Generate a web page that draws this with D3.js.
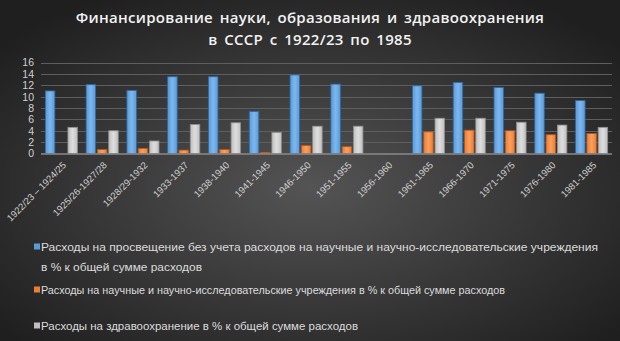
<!DOCTYPE html>
<html>
<head>
<meta charset="utf-8">
<script src="https://cdn.jsdelivr.net/npm/d3@7"></script>
<style>
  html, body { margin: 0; padding: 0; background: #2a2a2a; }
  svg { display: block; }
</style>
</head>
<body>
<svg id="chart" width="620" height="341"></svg>
<script>
// Periods on the category axis
const periods = [
  "1922/23 – 1924/25", "1925/26-1927/28", "1928/29-1932", "1933-1937",
  "1938-1940", "1941-1945", "1946-1950", "1951-1955", "1956-1960",
  "1961-1965", "1966-1970", "1971-1975", "1976-1980", "1981-1985"
];

// Spending shares, % of total expenditure (null = no data)
const education = [11.0, 12.1, 11.1, 13.5, 13.5, 7.4, 13.8, 12.2, null, 11.9, 12.5, 11.6, 10.6, 9.3];
const science   = [null, 0.7, 0.9, 0.6, 0.7, 0.2, 1.4, 1.2, null, 3.8, 4.1, 4.0, 3.3, 3.5];
const health    = [4.6, 4.0, 2.2, 5.1, 5.4, 3.7, 4.8, 4.8, null, 6.2, 6.2, 5.5, 5.0, 4.6];

const yTicks = [0, 2, 4, 6, 8, 10, 12, 14, 16];

const seriesNames = [
  ["Расходы на просвещение без учета расходов на научные и научно-исследовательские учреждения",
   "в % к общей сумме расходов"],
  ["Расходы на научные и научно-исследовательские учреждения в % к общей сумме расходов"],
  ["Расходы на здравоохранение в % к общей сумме расходов"]
];

const seriesColors = ["#5b9bd5", "#ed7d31", "#bfbfbf"];
const seriesDark   = ["#2f69a8", "#b8561a", "#8f8f8f"];
const seriesLight  = ["#7db7ef", "#f8a060", "#dedede"];

const svg = d3.select("#chart");
const W = 620, H = 341;
const defs = svg.append("defs");

// Dark backdrop, lighter toward the middle
const bg = defs.append("radialGradient").attr("id", "bg")
  .attr("cx", "50%").attr("cy", "55%").attr("r", "65%");
bg.append("stop").attr("offset", "0%").attr("stop-color", "#545454");
bg.append("stop").attr("offset", "100%").attr("stop-color", "#1f1f1f");
svg.append("rect").attr("width", W).attr("height", H).attr("fill", "url(#bg)");

// Bar shading per series
seriesColors.forEach((c, i) => {
  const g = defs.append("linearGradient").attr("id", "bar" + i)
    .attr("x1", "0%").attr("x2", "100%").attr("y1", "0%").attr("y2", "0%");
  g.append("stop").attr("offset", "0%").attr("stop-color", c);
  g.append("stop").attr("offset", "50%").attr("stop-color", seriesLight[i]);
  g.append("stop").attr("offset", "100%").attr("stop-color", c);
});

// Title
const title = svg.append("text")
  .attr("text-anchor", "middle")
  .attr("font-family", "'Open Sans', 'Noto Sans', sans-serif")
  .attr("font-weight", 600).attr("font-size", 15)
  .attr("letter-spacing", 0.3).attr("word-spacing", 2.5)
  .attr("fill", "#f2f2f2");
title.append("tspan").attr("x", 310).attr("y", 23)
  .text("Финансирование науки, образования и здравоохранения");
title.append("tspan").attr("x", 310).attr("y", 45)
  .text("в СССР с 1922/23 по 1985");

// Scales
const x = d3.scaleBand().domain(periods).range([41, 612]).paddingInner(0).paddingOuter(0);
const y = d3.scaleLinear().domain([0, 16]).range([153.5, 62.5]);
const barW = 9.5, barStep = 11.3;
const sub = d3.scaleLinear().domain([0, 2]).range([-barStep, barStep]);

// Grid lines
svg.append("g").selectAll("line").data(yTicks.filter(t => t > 0)).join("line")
  .attr("x1", 41).attr("x2", 612)
  .attr("y1", d => Math.round(y(d)) + 0.5).attr("y2", d => Math.round(y(d)) + 0.5)
  .attr("stroke", "#5e5e5e").attr("stroke-width", 1);

// Y axis labels
const yAxis = svg.append("g").attr("transform", "translate(34,0)")
  .call(d3.axisLeft(y).tickValues(yTicks).tickSize(0).tickPadding(0));
yAxis.select(".domain").remove();
yAxis.selectAll("text")
  .attr("font-family", "'Liberation Sans', Arial, sans-serif")
  .attr("font-size", 10.5).attr("fill", "#d0d0d0");

// Bars
const allSeries = [education, science, health];
allSeries.forEach((vals, si) => {
  svg.append("g").selectAll("rect")
    .data(periods.map((p, i) => ({ p, v: vals[i] })).filter(d => d.v != null))
    .join("rect")
    .attr("x", d => x(d.p) + x.bandwidth() / 2 + sub(si) - barW / 2)
    .attr("y", d => y(d.v))
    .attr("width", barW)
    .attr("height", d => y(0) - y(d.v))
    .attr("fill", "url(#bar" + si + ")")
    .attr("stroke", seriesDark[si]).attr("stroke-width", 0.8);
});

// Baseline
svg.append("line").attr("x1", 41).attr("x2", 612)
  .attr("y1", y(0) + 0.5).attr("y2", y(0) + 0.5)
  .attr("stroke", "#8a8a8a").attr("stroke-width", 1.5);

// Category labels, slanted
const xAxis = svg.append("g").attr("transform", "translate(0," + y(0) + ")")
  .call(d3.axisBottom(x).tickSize(0).tickPadding(0));
xAxis.select(".domain").remove();
xAxis.selectAll(".tick text")
  .attr("font-family", "'Liberation Sans', Arial, sans-serif")
  .attr("font-size", 9.5).attr("fill", "#d0d0d0")
  .attr("text-anchor", "end")
  .attr("dy", "0.35em")
  .attr("transform", "translate(3,10) rotate(-45)");

// Legend
const legend = svg.append("g")
  .attr("font-family", "'Liberation Sans', Arial, sans-serif")
  .attr("font-size", 11.5).attr("fill", "#dcdcdc");
const legendRows = [[247, 267], [290], [326]];
const legendWidths = [[557, 161], [464], [317]];
seriesNames.forEach((lines, si) => {
  const ys = legendRows[si];
  legend.append("rect")
    .attr("x", 34).attr("y", ys[0] - 3.5).attr("width", 6).attr("height", 6)
    .attr("fill", seriesColors[si]);
  lines.forEach((t, li) => {
    legend.append("text").attr("x", 41).attr("y", ys[li])
      .attr("dy", "0.35em")
      .attr("textLength", legendWidths[si][li])
      .attr("lengthAdjust", "spacingAndGlyphs")
      .text(t);
  });
});
</script>
</body>
</html>
